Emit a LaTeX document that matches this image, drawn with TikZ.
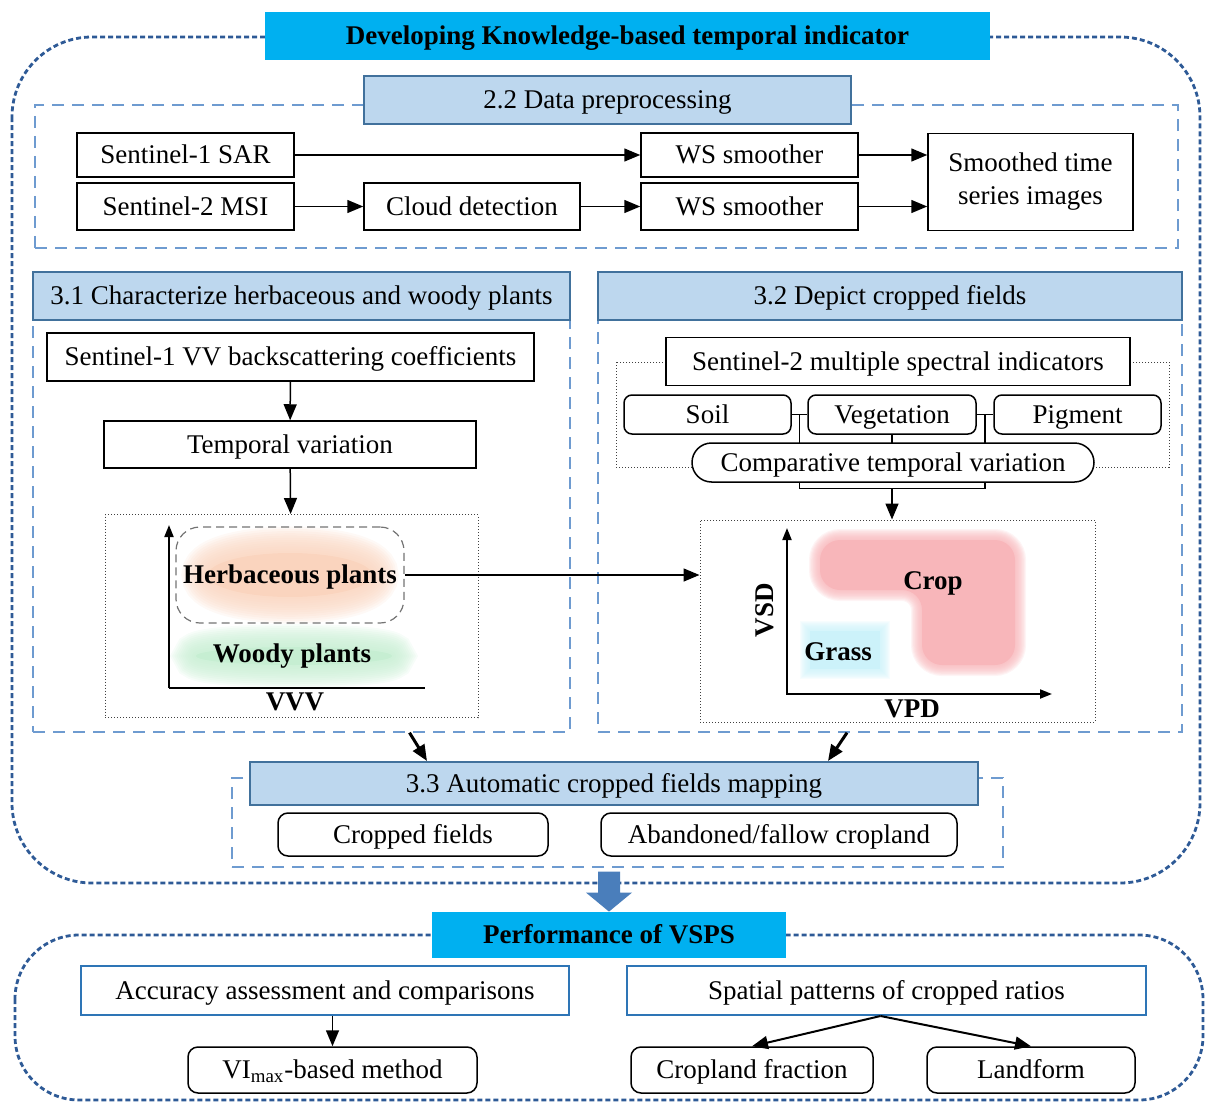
\documentclass[tikz,border=0pt]{standalone}
\usepackage{fontspec}
\setmainfont{Liberation Serif}
\usepackage{tikz}
\usetikzlibrary{arrows.meta, calc}
\definecolor{cyanhead}{RGB}{0, 176, 240}
\definecolor{secfill}{RGB}{189, 215, 238}
\definecolor{secline}{RGB}{65, 113, 156}
\definecolor{dashblue}{RGB}{110, 155, 208}
\definecolor{outerblue}{RGB}{46, 90, 150}
\definecolor{boxblue}{RGB}{46, 117, 182}
\definecolor{arrowblue}{RGB}{74, 126, 187}
\definecolor{herbc}{RGB}{250, 212, 190}
\definecolor{woodc}{RGB}{198, 238, 210}
\definecolor{cropc}{RGB}{248, 182, 186}
\definecolor{grassc}{RGB}{204, 242, 250}

\begin{document}
\begin{tikzpicture}[x=0.5pt, y=-0.5pt, font=\fontsize{13.5}{16.5}\selectfont,
  head/.style={fill=cyanhead, font=\fontsize{13.5}{16.5}\selectfont\bfseries, inner sep=0pt, text height=10.5pt, text depth=2pt},
  sec/.style={draw=secline, line width=1pt, fill=secfill, inner sep=0pt, text height=10.5pt, text depth=2pt},
  plain/.style={draw, line width=0.75pt, fill=white, inner sep=0pt},
  box/.style={plain, text height=10.5pt, text depth=2pt},
  rbox/.style={box, rounded corners=5pt},
  bbox/.style={box, draw=boxblue, line width=1pt},
  region/.style={draw=dashblue, line width=0.7pt, dash pattern=on 6pt off 4pt, inner sep=0pt},
  outer/.style={draw=outerblue, line width=1.4pt, dash pattern=on 2.5pt off 1.5pt, rounded corners=40pt},
  plotbox/.style={draw=black!75, line width=0.5pt, densely dotted, inner sep=0pt},
  arr/.style={-{Triangle[length=8pt, width=6.5pt]}, line width=0.75pt},
  lbl/.style={font=\fontsize{13.5}{16.5}\selectfont\bfseries, inner sep=1pt, text height=10.5pt, text depth=2pt}]

  \useasboundingbox (0,0) rectangle (1206,1103);

  % outer frames
  \draw[outer] (12,37) rectangle (1200,883);
  \draw[outer, rounded corners=32pt] (15,935) rectangle (1203,1100);
  \node[head, minimum width=362.5pt, minimum height=24pt] (main) at (627.5,36) {Developing Knowledge-based temporal indicator};

  % 2.2 data preprocessing
  \node[region, minimum width=571.5pt, minimum height=71.5pt] (regP) at (606.5,176.5) {};
  \node[sec, minimum width=243.5pt, minimum height=24pt] (prep) at (607.5,100) {2.2 Data preprocessing};
  \node[box, minimum width=108.5pt, minimum height=22pt] (s1) at (185.5,155) {Sentinel-1 SAR};
  \node[box, minimum width=108.5pt, minimum height=22pt] (ws1) at (749.5,155) {WS smoother};
  \node[box, minimum width=108.5pt, minimum height=23.5pt] (s2) at (185.5,206.5) {Sentinel-2 MSI};
  \node[box, minimum width=108pt, minimum height=23.5pt] (cloud) at (472,206.5) {Cloud detection};
  \node[box, minimum width=108.5pt, minimum height=23.5pt] (ws2) at (749.5,206.5) {WS smoother};
  \node[plain, minimum width=102.5pt, minimum height=48.5pt, align=center] (smooth) at (1030.5,182) {Smoothed time\\series images};
  \draw[arr] (s1) -- (ws1);
  \draw[arr] (s2) -- (cloud);
  \draw[arr] (cloud) -- (ws2);
  \draw[arr] (ws1.east) -- (ws1.east -| smooth.west);
  \draw[arr] (ws2.east) -- (ws2.east -| smooth.west);

  % 3.1 herbaceous and woody plants
  \node[region, minimum width=268.5pt, minimum height=218pt] (reg31) at (301.5,514) {};
  \node[sec, minimum width=268.5pt, minimum height=24pt] (sec31) at (301.5,296) {3.1 Characterize herbaceous and woody plants};
  \node[box, minimum width=243.5pt, minimum height=24pt] (vv) at (290.5,357) {Sentinel-1 VV backscattering coefficients};
  \node[box, minimum width=186pt, minimum height=23.5pt] (tv) at (290,444.5) {Temporal variation};
  \node[plotbox, minimum width=186.5pt, minimum height=101.5pt] (plotA) at (291.5,616) {};
  \draw[arr] (vv) -- (tv);
  \draw[arr] (tv) -- (plotA);

  \fill[herbc] (290,575) ellipse (82 and 22);
  \foreach \i in {1,...,12} {
    \draw[herbc, line width={\i*2.2pt}, opacity=0.14] (290,575) ellipse (82 and 22);
  }
  \fill[woodc] (294,656) ellipse (98 and 9);
  \foreach \i in {1,...,12} {
    \draw[woodc, line width={\i*1.9pt}, opacity=0.14] (294,656) ellipse (98 and 9);
  }
  \draw[line width=1pt, -{Triangle[length=6pt, width=4.5pt]}] (169,688) -- (169,525);
  \draw[line width=1pt] (169,688) -- (425,688);
  \node[lbl, draw=black!55, dash pattern=on 4pt off 2.5pt, line width=0.6pt, rounded corners=12pt,
    minimum width=114pt, minimum height=48pt] (herb) at (290,575) {Herbaceous plants};
  \node[lbl] (woody) at (292,654) {Woody plants};
  \node[lbl] (vvvA) at (295,702) {VVV};

  % 3.2 cropped fields
  \node[region, minimum width=292pt, minimum height=218pt] (reg32) at (890,514) {};
  \node[sec, minimum width=292pt, minimum height=24pt] (sec32) at (890,296) {3.2 Depict cropped fields};
  \draw[plotbox] (616,362) rectangle (1169,467);
  \node[box, minimum width=232pt, minimum height=24pt] (ind) at (898,361.5) {Sentinel-2 multiple spectral indicators};
  \node[box, rounded corners=4pt, minimum width=83.5pt, minimum height=19.5pt] (soil) at (707.5,414.5) {Soil};
  \node[box, rounded corners=4pt, minimum width=84pt, minimum height=19.5pt] (veg) at (892,414.5) {Vegetation};
  \node[box, rounded corners=4pt, minimum width=83.5pt, minimum height=19.5pt] (pig) at (1077.5,414.5) {Pigment};
  \draw[line width=0.6pt] (soil) -- (veg);
  \draw[line width=0.6pt] (veg) -- (pig);
  \coordinate (brk) at ($($(soil.east)!.5!(veg.west)$)+(0,74)$);
  \draw[line width=0.6pt] ($(soil.east)!.5!(veg.west)$) -- (brk) -| ($(veg.east)!.5!(pig.west)$);
  \draw[line width=0.6pt] (veg.south) -- ++(0,20);
  \node[box, rounded corners=9.75pt, minimum width=201pt, minimum height=19.5pt] (comp) at (893,462.5) {Comparative temporal variation};
  \node[plotbox, minimum width=197.5pt, minimum height=101pt] (plotB) at (897.5,621) {};
  \draw[arr] (veg.south |- brk) -- (veg.south |- plotB.north);
  \draw[arr] (herb.east) -- (herb.east -| plotB.west);

  \fill[cropc, rounded corners=10pt] (820,540) -- (1015,540) -- (1015,665) -- (922,665) -- (922,590) -- (820,590) -- cycle;
  \foreach \i in {1,...,10} {
    \draw[cropc, line width={\i*1.1pt}, opacity=0.15, rounded corners=10pt] (820,540) -- (1015,540) -- (1015,665) -- (922,665) -- (922,590) -- (820,590) -- cycle;
  }
  \fill[grassc] (810,631) rectangle (880,669);
  \foreach \i in {1,...,10} {
    \draw[grassc, line width={\i*1pt}, opacity=0.15] (810,631) rectangle (880,669);
  }
  \draw[line width=1pt, {Triangle[length=6pt, width=4.5pt]}-{Triangle[length=6pt, width=4.5pt]}] (787,528) -- (787,694) -- (1052,694);
  \node[lbl] (crop) at (933,581) {Crop};
  \node[lbl] (grass) at (838,652) {Grass};
  \node[lbl, rotate=90] (vsd) at (765,610) {VSD};
  \node[lbl] (vpd) at (912,709) {VPD};

  % 3.3 mapping
  \node[region, minimum width=385.5pt, minimum height=44.5pt] (reg33) at (617.5,822.5) {};
  \node[sec, minimum width=364pt, minimum height=21.5pt] (sec33) at (614,783.5) {3.3 Automatic cropped fields mapping};
  \node[rbox, minimum width=135pt, minimum height=21.5pt] (crf) at (413,834.5) {Cropped fields};
  \node[rbox, minimum width=178pt, minimum height=21.5pt] (aban) at (779,834.5) {Abandoned/fallow cropland};
  \draw[arr, line width=1.5pt] ([xshift=54pt]reg31.south) -- ([xshift=-93.5pt]sec33.north);
  \draw[arr, line width=1.5pt] ([xshift=-21.5pt]reg32.south) -- ([xshift=107pt]sec33.north);

  % performance
  \node[head, minimum width=177pt, minimum height=23pt] (perf) at (609,935) {Performance of VSPS};
  \fill[arrowblue] (perf.north) -- ++(-23,-19) -- ++(12,0) -- ++(0,-21) -- ++(22,0) -- ++(0,21) -- ++(12,0) -- cycle;
  \node[bbox, minimum width=244pt, minimum height=24.5pt] (acc) at (325,990.5) {Accuracy assessment and comparisons};
  \node[bbox, minimum width=259.5pt, minimum height=24.5pt] (spat) at (886.5,990.5) {Spatial patterns of cropped ratios};
  \node[rbox, minimum width=144.5pt, minimum height=23pt] (vim) at (332.5,1070) {VI\textsubscript{max}-based method};
  \node[rbox, minimum width=121pt, minimum height=23pt] (cf) at (752,1070) {Cropland fraction};
  \node[rbox, minimum width=104pt, minimum height=23pt] (land) at (1031,1070) {Landform};
  \draw[arr] (vim.north |- acc.south) -- (vim.north);
  \draw[arr, line width=1pt] ([xshift=-3pt]spat.south) -- (cf.north);
  \draw[arr, line width=1pt] ([xshift=-3pt]spat.south) -- (land.north);
\end{tikzpicture}
\end{document}
